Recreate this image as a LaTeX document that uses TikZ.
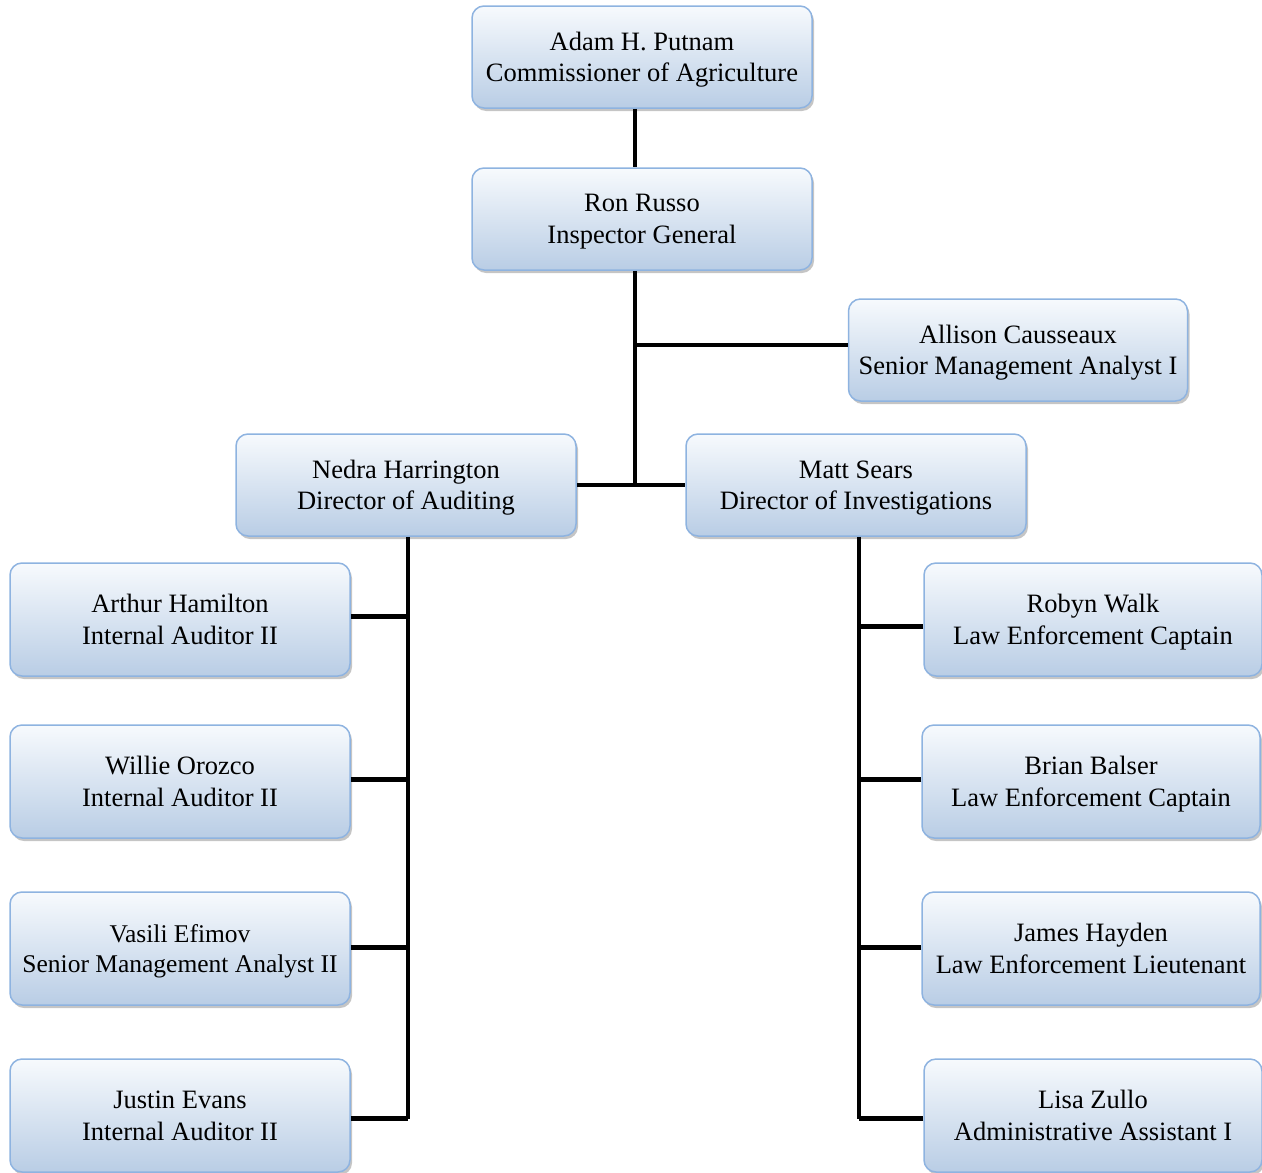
\documentclass[tikz,border=0pt]{standalone}
\usepackage{fontspec}
\setmainfont{Liberation Serif}
\usetikzlibrary{shadows}
\definecolor{boxtop}{HTML}{F7FAFD}
\definecolor{boxbottom}{HTML}{B9CDE5}
\definecolor{boxline}{HTML}{8EB3E0}
\begin{document}
\begin{tikzpicture}[
        x=1pt, y=-1pt,
        person/.style={draw=boxline, line width=1.5pt, rounded corners=12pt,
            top color=boxtop, bottom color=boxbottom,
            minimum width=340pt, minimum height=102pt, align=center,
            text depth=0pt, font=\fontsize{26.5}{31.5}\selectfont,
            drop shadow={shadow xshift=2pt, shadow yshift=-3pt, fill=black!45, opacity=.5}},
        staff/.style={person, minimum height=113pt},
        link/.style={line width=4.5pt}
    ]
    \useasboundingbox (0,0) rectangle (1262,1173);
    \node[person] (putnam) at (642,57) {Adam H. Putnam\\Commissioner of Agriculture};
    \node[person] (russo) at (642,219) {Ron Russo\\Inspector General};
    \node[person, minimum width=339pt] (causseaux) at (1018,350) {Allison Causseaux\\Senior Management Analyst I};
    \node[person] (harrington) at (406,485) {Nedra Harrington\\Director of Auditing};
    \node[person] (sears) at (856,485) {Matt Sears\\Director of Investigations};
    \node[staff] (hamilton) at (180,619.5) {Arthur Hamilton\\Internal Auditor II};
    \node[staff] (orozco) at (180,781.5) {Willie Orozco\\Internal Auditor II};
    \node[staff, font=\fontsize{25.5}{30.5}\selectfont] (efimov) at (180,948.5) {Vasili Efimov\\Senior Management Analyst II};
    \node[staff] (evans) at (180,1115.5) {Justin Evans\\Internal Auditor II};
    \node[staff, minimum width=338pt] (walk) at (1093,619.5) {Robyn Walk\\Law Enforcement Captain};
    \node[staff, minimum width=338pt] (balser) at (1091,781.5) {Brian Balser\\Law Enforcement Captain};
    \node[staff, minimum width=338pt] (hayden) at (1091,948.5) {James Hayden\\Law Enforcement Lieutenant};
    \node[staff, minimum width=338pt] (zullo) at (1093,1115.5) {Lisa Zullo\\Administrative Assistant I};
    \coordinate (hub) at (635,484);
    \coordinate (aud) at (408,0);
    \coordinate (inv) at (859,0);
    \draw[link] (putnam.south -| hub) -- (russo.north -| hub);
    \draw[link] (russo.south -| hub) -- (hub);
    \draw[link] ([yshift=5pt]causseaux.west) -- ([yshift=5pt]causseaux.west -| hub);
    \draw[link] (harrington.east) -- (sears.west);
    \draw[link] (harrington.south -| aud) -- ([yshift=-3pt]evans.east -| aud);
    \foreach \n/\d in {hamilton/3, orozco/2, efimov/1, evans/-3}
        \draw[link] ([yshift=\d pt]\n.east) -- ([yshift=\d pt]\n.east -| aud);
    \draw[link] (sears.south -| inv) -- ([yshift=-3pt]zullo.west -| inv);
    \foreach \n/\d in {walk/-7, balser/2, hayden/1, zullo/-3}
        \draw[link] ([yshift=\d pt]\n.west) -- ([yshift=\d pt]\n.west -| inv);
\end{tikzpicture}
\end{document}
